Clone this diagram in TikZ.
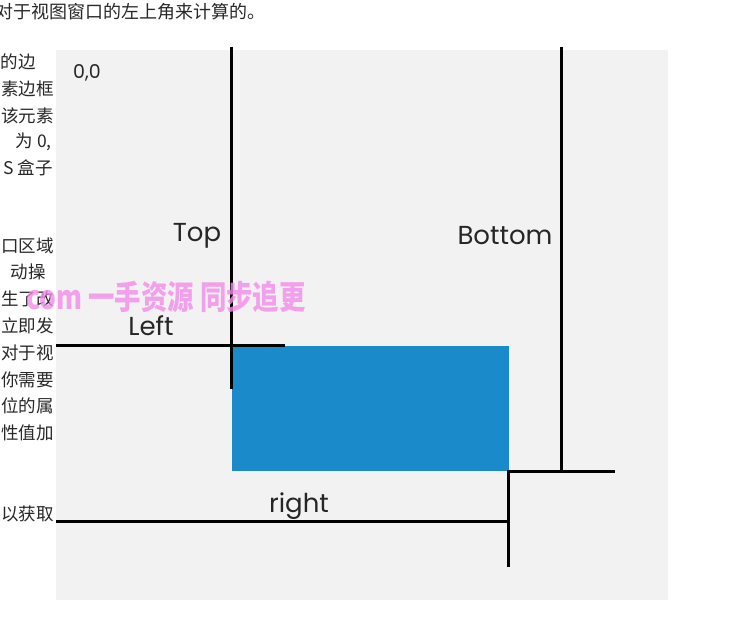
\documentclass[tikz,border=0pt]{standalone}
\usepackage{fontspec}
\setmainfont{Poppins}
\newfontfamily\cjk{Noto Sans CJK SC}
\usepackage{tikz}
\usetikzlibrary{positioning, calc}
\definecolor{panelgray}{RGB}{242,242,242}
\definecolor{boxblue}{RGB}{27,138,202}
\definecolor{markpink}{RGB}{242,140,234}
\definecolor{pagetext}{RGB}{40,40,40}

\begin{document}
\begin{tikzpicture}[x=1pt, y=-1pt,
  edge/.style={line width=3pt, black},
  lbl/.style={font=\fontsize{26}{26}\selectfont, text=black!85, inner sep=0pt},
  side/.style={font=\cjk\fontsize{17.5}{18}\selectfont, text=pagetext, anchor=east, inner sep=0pt},
]
  \useasboundingbox (0,0) rectangle (742,630);
  \fill[white] (0,0) rectangle (742,630);

  % page text around the figure
  \node[side, font=\cjk\fontsize{18}{18}\selectfont] (head) at (266,12) {对于视图窗口的左上角来计算的。};
  \node[side] (s1)  at (36,62)  {的边};
  \node[side] (s2)  at (54,89)  {素边框};
  \node[side] (s3)  at (54,116) {该元素};
  \node[side] (s4)  at (52,142) {为 0,};
  \node[side] (s5)  at (53,168) {S 盒子};
  \node[side] (s6)  at (54,246) {口区域};
  \node[side] (s7)  at (46,272) {动操};
  \node[side] (s8)  at (54,299) {生了改};
  \node[side] (s9)  at (54,326) {立即发};
  \node[side] (s10) at (54,353) {对于视};
  \node[side] (s11) at (54,380) {你需要};
  \node[side] (s12) at (54,406) {位的属};
  \node[side] (s13) at (54,433) {性值加};
  \node[side] (s14) at (54,514) {以获取};

  % figure panel
  \fill[panelgray] (56,50) rectangle (668,600);
  \fill[boxblue] (232,346) rectangle (509,471);

  % line ends
  \coordinate (topA) at (231,47);
  \coordinate (topB) at (231,389);
  \coordinate (botA) at (561,47);
  \coordinate (botB) at (561,471);
  \coordinate (leftA) at (56,345);
  \coordinate (leftB) at (285,345);
  \coordinate (cornerA) at (507,471);
  \coordinate (cornerB) at (615,471);
  \coordinate (rightA) at (508,471);
  \coordinate (rightB) at (508,567);
  \coordinate (baseA) at (56,521);
  \coordinate (baseB) at (508,521);

  \draw[edge] (topA) -- (topB);
  \draw[edge] (botA) -- (botB);
  \draw[edge] (leftA) -- (leftB);
  \draw[edge] (cornerA) -- (cornerB);
  \draw[edge] (rightA) -- (rightB);
  \draw[edge] (baseA) -- (baseB);

  % labels
  \node[lbl, font=\fontsize{19}{19}\selectfont] (origin) at (87,73) {0,0};
  \node[lbl] (toplbl) at (197,236) {Top};
  \node[lbl] (botlbl) at (505,236) {Bottom};
  \node[lbl] (leftlbl) at (151,326) {Left};
  \node[lbl] (rightlbl) at (299,506) {right};

  % watermark
  \node[font=\cjk\bfseries\fontsize{33}{33}\selectfont, text=markpink, opacity=0.8,
        anchor=east, inner sep=0pt] (mark) at (306,297)
        {\scalebox{0.8}[1]{com 一手资源 同步追更}};
\end{tikzpicture}
\end{document}
